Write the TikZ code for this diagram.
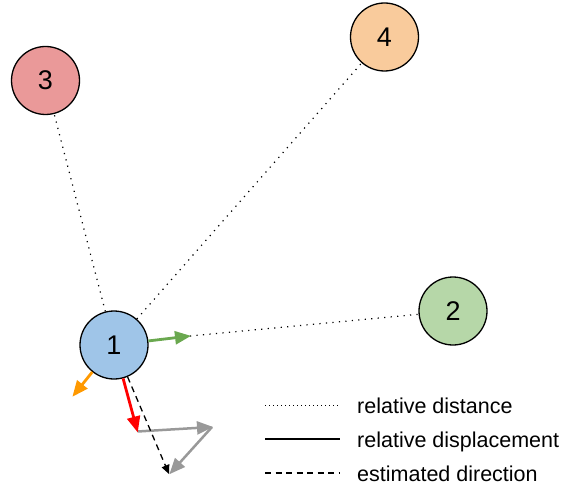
\documentclass[tikz,border=0pt]{standalone}
\usepackage{fontspec}
\setmainfont{Liberation Sans}
\usetikzlibrary{arrows.meta}
\definecolor{blueF}{HTML}{9FC5E8}
\definecolor{greenF}{HTML}{B6D7A8}
\definecolor{redF}{HTML}{EA9999}
\definecolor{orangeF}{HTML}{F9CB9C}
\definecolor{greenA}{HTML}{6AA84F}
\definecolor{orangeA}{HTML}{FF9900}
\definecolor{redA}{HTML}{FF0000}
\definecolor{grayA}{HTML}{999999}
\tikzset{
  agent/.style={circle, draw=black, line width=1.3pt, minimum size=68pt, inner sep=0pt,
    font=\fontsize{27}{29}\selectfont},
  dist/.style={line width=1.2pt, dash pattern=on 1.2pt off 5.3pt},
  disp/.style={line width=2.8pt, -{Triangle[length=16pt, width=13pt]}, shorten >=-1pt},
  est/.style={line width=1.3pt, dash pattern=on 6pt off 4.5pt, -{Triangle[length=9pt, width=8pt]}},
  legtext/.style={anchor=base west, inner sep=0pt, font=\fontsize{21.5}{24}\selectfont}
}
\begin{document}
\begin{tikzpicture}[x=1pt, y=-1pt]
\useasboundingbox (0,0) rectangle (561,489);
% agents
\node[agent, fill=blueF]   (n1) at (114,345)   {1};
\node[agent, fill=greenF]  (n2) at (453,311)   {2};
\node[agent, fill=redF]    (n3) at (45.5,80.5) {3};
\node[agent, fill=orangeF] (n4) at (384.5,37)  {4};
% arrow end points
\coordinate (g) at (190,336);
\coordinate (o) at (73,396);
\coordinate (r) at (137.5,431.5);
\coordinate (a) at (212,427);
\coordinate (b) at (170,473.5);
\coordinate (e) at (169,474);
% relative distances
\draw[dist] (n1) -- (n3);
\draw[dist] (n1) -- (n4);
\draw[dist] (g) -- (n2);
% relative displacements
\draw[disp, greenA] (n1) -- (g);
\draw[disp, orangeA] (n1) -- (o);
\draw[disp, grayA, line width=2.5pt] (r) -- (a);
\draw[disp, grayA, line width=2.5pt] (a) -- (b);
% estimated direction
\draw[est] (n1) -- (e);
\draw[disp, redA] (n1) -- (r);
% legend
\coordinate (l1a) at (265,405); \coordinate (l1b) at (340,405);
\coordinate (l2a) at (265,439); \coordinate (l2b) at (340,439);
\coordinate (l3a) at (265,473); \coordinate (l3b) at (340,473);
\draw[line width=1pt, dash pattern=on 1pt off 3pt] (l1a) -- (l1b);
\draw[line width=1.3pt] (l2a) -- (l2b);
\draw[line width=1.3pt, dash pattern=on 6pt off 4.5pt] (l3a) -- (l3b);
\node[legtext] (t1) at (357,413) {relative distance};
\node[legtext] (t2) at (357,447) {relative displacement};
\node[legtext] (t3) at (357,481) {estimated direction};
\end{tikzpicture}
\end{document}
